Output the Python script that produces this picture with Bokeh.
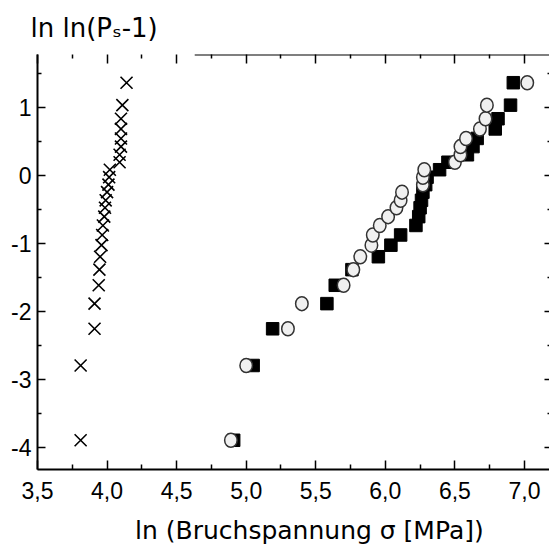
from bokeh.plotting import figure
from bokeh.models import Range1d, FixedTicker, LinearAxis, Arrow, ColumnDataSource, Title
from bokeh.embed import file_html
from bokeh.resources import INLINE

# ---- data (Weibull plot) ----
x_cross = [3.81, 3.81, 3.91, 3.91, 3.94, 3.945, 3.95, 3.96, 3.965, 3.97, 3.98, 3.985,
           3.99, 4.00, 4.01, 4.015, 4.02, 4.09, 4.09, 4.10, 4.10, 4.10, 4.10, 4.11, 4.14]
y_cross = [-3.90, -2.80, -2.26, -1.89, -1.62, -1.39, -1.20, -1.03, -0.88, -0.74, -0.61, -0.48,
           -0.37, -0.25, -0.14, -0.03, 0.08, 0.19, 0.30, 0.42, 0.54, 0.68, 0.83, 1.03, 1.36]

x_square = [4.91, 5.05, 5.19, 5.58, 5.64, 5.76, 5.95, 6.04, 6.11, 6.22, 6.24, 6.25,
            6.26, 6.27, 6.29, 6.30, 6.39, 6.45, 6.59, 6.63, 6.66, 6.79, 6.81, 6.90, 6.92]
y_square = [-3.90, -2.80, -2.26, -1.89, -1.62, -1.39, -1.20, -1.03, -0.88, -0.74, -0.61, -0.48,
            -0.37, -0.25, -0.14, -0.03, 0.08, 0.19, 0.30, 0.42, 0.54, 0.68, 0.83, 1.03, 1.36]

x_circle = [4.89, 5.00, 5.30, 5.40, 5.70, 5.77, 5.82, 5.90, 5.91, 5.96, 6.02, 6.08,
            6.11, 6.12, 6.27, 6.27, 6.28, 6.50, 6.54, 6.54, 6.58, 6.68, 6.72, 6.73, 7.02]
y_circle = [-3.90, -2.80, -2.26, -1.89, -1.62, -1.39, -1.20, -1.03, -0.88, -0.74, -0.61, -0.48,
            -0.37, -0.25, -0.14, -0.03, 0.08, 0.19, 0.30, 0.42, 0.54, 0.68, 0.83, 1.03, 1.36]

x_ticks = [3.5, 4.0, 4.5, 5.0, 5.5, 6.0, 6.5, 7.0]
x_tick_labels = ["3,5", "4,0", "4,5", "5,0", "5,5", "6,0", "6,5", "7,0"]
x_minor = [3.75, 4.25, 4.75, 5.25, 5.75, 6.25, 6.75]
y_ticks = [-4, -3, -2, -1, 0, 1]
y_tick_labels = ["-4", "-3", "-2", "-1", "0", "1"]
y_minor = [-3.5, -2.5, -1.5, -0.5, 0.5, 1.5]

x_title = "\u00a0\u00a0\u00a0\u00a0ln (Bruchspannung σ [MPa])"
y_title = "ln ln(P\u209b-1)"

x_min, x_max = 3.5, 7.18
y_min, y_max = -4.33, 1.775
top_line_from = 4.63

p = figure(width=549, height=550, output_backend="svg", toolbar_location=None,
           x_range=Range1d(x_min, x_max), y_range=Range1d(y_min, y_max),
           x_axis_location=None, y_axis_location=None,
           min_border_left=37, min_border_right=0, min_border_top=54, min_border_bottom=81)
p.outline_line_color = None
p.xgrid.grid_line_color = None
p.ygrid.grid_line_color = None
p.background_fill_color = "white"
p.border_fill_color = "white"

xt = FixedTicker(ticks=x_ticks, minor_ticks=x_minor)
yt = FixedTicker(ticks=y_ticks, minor_ticks=y_minor)

def style(ax, mj, mn, lw_line=2):
    ax.axis_line_width = lw_line
    ax.axis_line_color = "black"
    ax.major_tick_line_width = 1.5
    ax.minor_tick_line_width = 1.5
    ax.major_tick_line_color = "black"
    ax.minor_tick_line_color = "black"
    ax.major_tick_in = mj
    ax.major_tick_out = 0
    ax.minor_tick_in = mn
    ax.minor_tick_out = 0

bottom = LinearAxis(ticker=xt, major_label_overrides=dict(zip(x_ticks, x_tick_labels)))
style(bottom, 9, 5)
bottom.major_label_text_font = "Liberation Sans"
bottom.major_label_text_font_size = "23px"
bottom.major_label_text_color = "black"
bottom.major_label_standoff = 12
bottom.axis_label = x_title
bottom.axis_label_text_font = "DejaVu Sans"
bottom.axis_label_text_font_size = "25px"
bottom.axis_label_text_font_style = "normal"
bottom.axis_label_text_color = "black"
bottom.axis_label_standoff = 14
p.add_layout(bottom, "below")

left = LinearAxis(ticker=yt, major_label_overrides=dict(zip(y_ticks, y_tick_labels)))
style(left, 8, 4)
left.major_label_text_font = "Liberation Sans"
left.major_label_text_font_size = "23px"
left.major_label_text_color = "black"
left.major_label_standoff = 6
p.add_layout(left, "left")

top = LinearAxis(ticker=xt, major_label_overrides={t: "" for t in x_ticks})
style(top, 9, 4)
top.axis_line_color = None
top.major_label_text_font_size = "1px"
top.major_label_standoff = 0
p.add_layout(top, "above")

right = LinearAxis(ticker=yt, major_label_overrides={t: "" for t in y_ticks})
style(right, 5, 2)
right.axis_line_color = None
right.major_label_text_font_size = "1px"
right.major_label_standoff = 0
p.add_layout(right, "right")

p.add_layout(Title(text=y_title, align="left", offset=-7, standoff=20, vertical_align="top",
                   text_font="DejaVu Sans", text_font_size="26px",
                   text_font_style="normal", text_color="black"), "above")

p.add_layout(Arrow(start=None, end=None, x_start=top_line_from, y_start=y_max,
                   x_end=x_max, y_end=y_max, line_color="black", line_width=2))

src_x = ColumnDataSource(dict(x=x_cross, y=y_cross))
src_s = ColumnDataSource(dict(x=x_square, y=y_square))
src_c = ColumnDataSource(dict(x=x_circle, y=y_circle))

p.scatter("x", "y", source=src_x, marker="x", size=17, line_color="black", line_width=1.6)
p.scatter("x", "y", source=src_s, marker="square", size=12.5, fill_color="black",
          line_color="black", line_width=1)
p.ellipse("x", "y", source=src_c, width=12.5, height=14, width_units="screen",
          height_units="screen", fill_color="#f0f0f0", line_color="#333333", line_width=1.5)

open("out.html", "w").write(file_html(p, INLINE))
